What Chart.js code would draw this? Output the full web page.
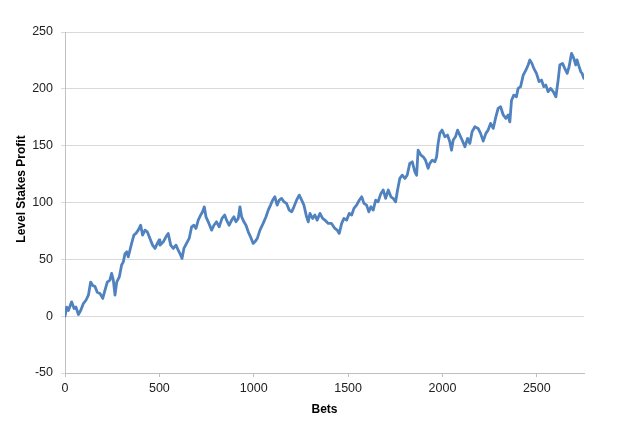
<!DOCTYPE html>
<html>
<head>
<meta charset="utf-8">
<script src="https://cdn.jsdelivr.net/npm/chart.js@4/dist/chart.umd.min.js"></script>
<style>
  body { margin: 0; background: #fff; }
  #wrap { width: 617px; height: 424px; }
</style>
</head>
<body>
<div id="wrap"><canvas id="profitChart" width="617" height="424"></canvas></div>
<script>
// valores (apuestas -> beneficio)
const bets = [
  0, 9, 18, 35, 48, 58, 71, 83, 97, 111, 124, 136, 147, 159, 171, 185, 200, 212, 224, 238,
  247, 256, 265, 274, 288, 300, 309, 318, 327, 335, 344, 353, 365, 376, 388, 401, 411, 424, 436, 450,
  464, 477, 489, 499,
  503, 521, 535, 547, 560, 574, 588, 600, 613, 620, 630, 644, 658, 671, 683, 694, 706, 719, 729, 738,
  747, 759, 777, 789, 803, 817, 832, 846, 856, 870, 883, 895, 906, 918, 927, 936, 948, 959, 971, 983,
  997, 1006, 1019,
  1033, 1050, 1065, 1077, 1089, 1100, 1112, 1124, 1135, 1148, 1160, 1174, 1188, 1201, 1213, 1227, 1241, 1254, 1266, 1280,
  1289, 1298, 1312, 1324, 1336, 1351, 1365, 1377, 1395, 1412, 1430, 1442, 1453, 1466, 1478, 1492, 1506, 1519, 1531, 1545,
  1559, 1572, 1584,
  1598, 1610, 1621, 1633, 1646, 1659, 1674, 1686, 1699, 1713, 1727, 1739, 1752, 1762, 1774, 1787, 1801, 1813, 1827, 1840,
  1854, 1863, 1871, 1886, 1898, 1910, 1924, 1933, 1946, 1960, 1969, 1977, 1986, 1998, 2013, 2027, 2039, 2048, 2057, 2069,
  2080, 2092, 2104, 2119, 2133, 2145, 2157,
  2172, 2189, 2202, 2216, 2230, 2242, 2255, 2269, 2283, 2295, 2308, 2322, 2336, 2348, 2357, 2366, 2378, 2392, 2401, 2414,
  2428, 2442, 2454, 2463, 2474, 2484, 2498, 2512, 2525, 2537, 2548, 2560, 2573, 2587, 2601, 2613, 2622, 2636, 2648, 2661,
  2671, 2684, 2696, 2706, 2713, 2724, 2733, 2740, 2749
];
const profit = [
  0, 8, 5, 12.6, 6.7, 8, 1.5, 5, 11, 14, 18.5, 30, 27, 26, 21, 20, 15.6, 23, 30, 31.7,
  37.6, 31.7, 18.5, 30, 34.6, 45, 47.8, 55, 56.6, 52.2, 58, 64, 71.3, 72.8, 75.7, 80, 71.3, 75.7, 74.2, 68.4,
  62.5, 59.6, 64, 67,
  62.5, 65.4, 69.8, 72.8, 62.5, 59.6, 62.5, 58, 53.7, 50.8, 59.6, 64, 68.4, 78.6, 80, 77.2, 84.5, 89, 91.8, 96.2,
  87.4, 83, 75.7, 80, 83, 78.6, 86, 89, 84.5, 80, 84.5, 87.4, 83, 86, 96.2, 87.4, 83, 80, 74.2, 69.8,
  64, 65.4, 68.4,
  75.7, 81.6, 87.4, 93.3, 97.7, 102, 105, 97.7, 102, 103.6, 100.6, 99.2, 93.3, 91.8, 96.2, 102, 106.5, 102, 97.7, 87.4,
  83, 90.4, 86, 89, 84.5, 90.4, 86, 84.5, 81.6, 81.6, 77.2, 75.7, 72.8, 81.6, 86, 84.5, 90.4, 89, 94.8, 97.7,
  102, 105, 99.2,
  97.7, 91.8, 96.2, 93.3, 102, 100.6, 108, 111, 103.6, 111, 105, 103.6, 100.6, 111, 121.2, 124, 121.2, 124, 134.4, 135.8,
  127, 124, 146, 141.7, 140.2, 137.3, 130, 134.4, 137.3, 135.8, 140.2, 152, 160.8, 163.7, 157.8, 159.3, 153.4, 146, 155, 157.8,
  163.7, 159.3, 155, 149, 156.4, 152, 162.2,
  166.6, 165.2, 160.8, 154, 160.8, 163.7, 169.6, 165.2, 175.4, 182.8, 184.2, 177, 174, 177, 171, 190, 194.5, 193, 200.4, 201.9,
  212.1, 216.5, 221, 225.4, 222.4, 218, 213.6, 206.3, 207.7, 201.9, 203.3, 197.5, 200.4, 197.5, 193, 207.7, 221, 222.4, 218, 213.6,
  219.5, 231.2, 226.8, 221, 225.4, 219.5, 215, 213.6, 209.2
];
const xTicks = [0, 500, 1000, 1500, 2000, 2500];
const yTicks = [-50, 0, 50, 100, 150, 200, 250];
const xTitle = "Bets";
const yTitle = "Level Stakes Profit";

const puntos = bets.map((b, i) => ({ x: b, y: profit[i] }));

// titulo del eje Y dibujado a mano (un poco por encima del centro, como en el original)
const tituloY = {
  id: "tituloY",
  afterDraw(chart) {
    const ctx = chart.ctx;
    ctx.save();
    ctx.translate(22, 189);
    ctx.rotate(-Math.PI / 2);
    ctx.font = 'bold 12px "Liberation Sans", Arial, sans-serif';
    ctx.fillStyle = "#000";
    ctx.textAlign = "center";
    ctx.textBaseline = "middle";
    ctx.fillText(yTitle, 0, 0);
    ctx.restore();
  }
};

new Chart(document.getElementById("profitChart"), {
  type: "line",
  data: {
    datasets: [{
      label: yTitle,
      data: puntos,
      borderColor: "#4f82be",
      borderWidth: 2.8,
      borderJoinStyle: "round",
      borderCapStyle: "round",
      pointRadius: 0,
      tension: 0,
      fill: false
    }]
  },
  options: {
    responsive: false,
    animation: false,
    layout: { padding: { left: 0, right: 33, top: 32, bottom: 0 } },
    plugins: { legend: { display: false }, tooltip: { enabled: false } },
    scales: {
      x: {
        type: "linear",
        min: 0,
        max: 2750,
        afterBuildTicks: scale => { scale.ticks = xTicks.map(v => ({ value: v })); },
        afterFit: scale => { scale.height = 51; },
        ticks: {
          padding: 4,
          color: "#222",
          callback: v => String(v),
          font: { family: '"Liberation Sans", Arial, sans-serif', size: 12.5 }
        },
        grid: { drawOnChartArea: false, tickLength: 4, color: "#bfbfbf" },
        border: { color: "#bfbfbf" },
        title: {
          display: true,
          text: xTitle,
          color: "#000",
          padding: { top: 0, bottom: 7 },
          font: { family: '"Liberation Sans", Arial, sans-serif', size: 12, weight: "bold" }
        }
      },
      y: {
        min: -50,
        max: 250,
        afterBuildTicks: scale => { scale.ticks = yTicks.map(v => ({ value: v })); },
        afterFit: scale => { scale.width = 65; },
        ticks: {
          padding: 8,
          color: "#222",
          callback: v => String(v),
          font: { family: '"Liberation Sans", Arial, sans-serif', size: 12.5 }
        },
        grid: { color: "#d9d9d9", tickLength: 4 },
        border: { color: "#bfbfbf" }
      }
    }
  },
  plugins: [tituloY]
});
</script>
</body>
</html>
